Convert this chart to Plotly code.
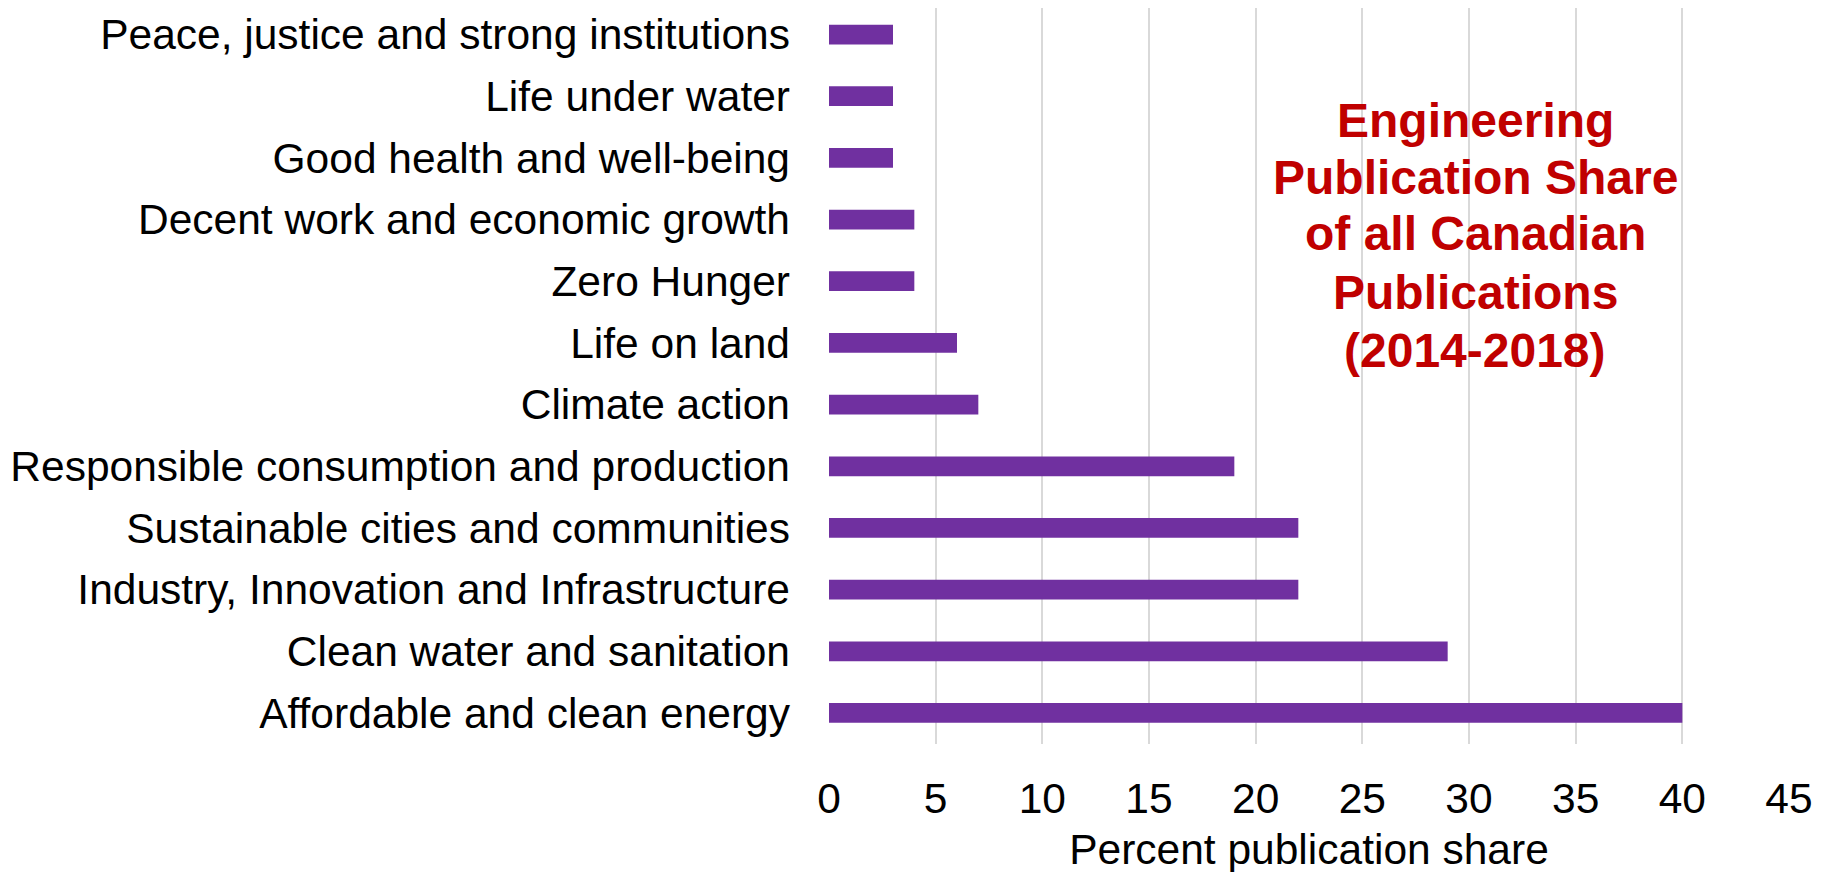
import plotly.graph_objects as go

categories = [
    "Peace, justice and strong institutions",
    "Life under water",
    "Good health and well-being",
    "Decent work and economic growth",
    "Zero Hunger",
    "Life on land",
    "Climate action",
    "Responsible consumption and production",
    "Sustainable cities and communities",
    "Industry, Innovation and Infrastructure",
    "Clean water and sanitation",
    "Affordable and clean energy",
]
values = [3, 3, 3, 4, 4, 6, 7, 19, 22, 22, 29, 40]
x_ticks = [0, 5, 10, 15, 20, 25, 30, 35, 40, 45]
title_lines = [
    "Engineering",
    "Publication Share",
    "of all Canadian",
    "Publications",
    "(2014-2018)",
]
x_title = "Percent publication share"

FONT = "Arial, Liberation Sans, sans-serif"
W, H = 1831, 872
OFF = 8  # page body margin
ML, MR, MT, MB = 821, 50, 0, 136
PH = H - MT - MB

fig = go.Figure()
fig.add_trace(go.Bar(
    y=categories,
    x=values,
    orientation="h",
    width=0.32,
    marker=dict(color="#7030A0", line=dict(width=0)),
    hoverinfo="x+y",
))

def py2paper(py):
    # py: target window pixel
    return 1 - (py - OFF - MT) / PH

def px2paper(px):
    return (px - OFF - ML) / (W - ML - MR)

# white box behind title (hides gridlines)
fig.add_shape(
    type="rect", xref="paper", yref="paper",
    x0=px2paper(1215), x1=px2paper(1735),
    y0=py2paper(388), y1=py2paper(76),
    fillcolor="white", line=dict(width=0), layer="below",
)

line_centers = [120, 177, 234, 292, 350]
for txt, cy in zip(title_lines, line_centers):
    fig.add_annotation(
        text=f"<b>{txt}</b>",
        xref="paper", yref="paper",
        x=px2paper(1475), y=py2paper(cy),
        xanchor="center", yanchor="middle",
        showarrow=False,
        font=dict(family=FONT, size=48, color="#C00000"),
    )

n = len(categories)
fig.update_layout(
    width=W, height=H,
    margin=dict(l=ML, r=MR, t=MT, b=MB, pad=0),
    paper_bgcolor="white",
    plot_bgcolor="white",
    showlegend=False,
    font=dict(family=FONT, size=42.5, color="black"),
    xaxis=dict(
        range=[0, 45],
        tickvals=x_ticks,
        ticktext=[str(v) for v in x_ticks],
        showgrid=True,
        gridcolor="#D9D9D9",
        gridwidth=1.5,
        zeroline=False,
        showline=False,
        ticks="",
        ticklabelstandoff=25,
        tickfont=dict(family=FONT, size=42.5, color="black"),
        title=dict(text=x_title, standoff=13,
                   font=dict(family=FONT, size=42.5, color="black")),
        fixedrange=True,
    ),
    yaxis=dict(
        range=[n - 1 + 0.503, -0.43],
        showgrid=False,
        zeroline=False,
        showline=False,
        ticks="",
        ticklabelstandoff=38,
        tickfont=dict(family=FONT, size=42.5, color="black"),
        fixedrange=True,
    ),
)

fig.write_html("out.html")
